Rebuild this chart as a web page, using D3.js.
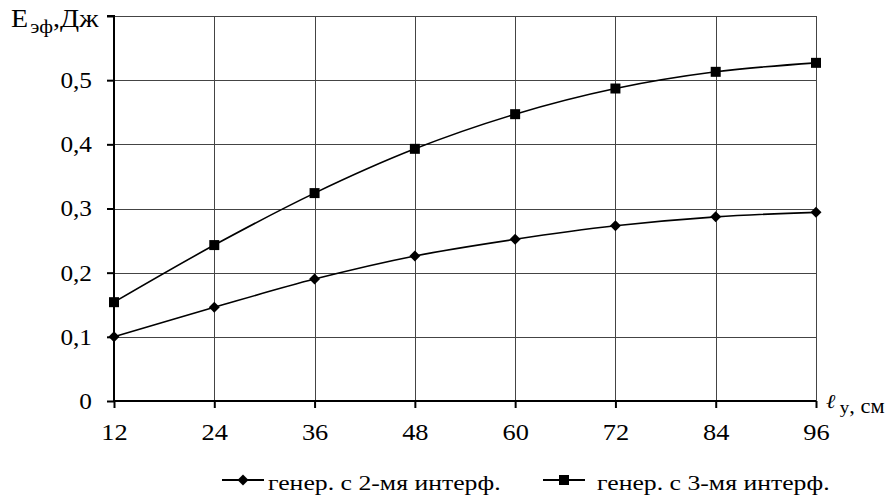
<!DOCTYPE html>
<html><head><meta charset="utf-8">
<script src="https://cdn.jsdelivr.net/npm/d3@7"></script>
<style>html,body{margin:0;padding:0;background:#fff;}svg{display:block;font-family:"Liberation Serif","Times New Roman",serif;}</style>
</head><body>
<svg id="c" width="893" height="501"></svg>
<script>
const xValues = [12, 24, 36, 48, 60, 72, 84, 96];
const series2 = [0.100, 0.146, 0.190, 0.226, 0.252, 0.273, 0.287, 0.294];
const series3 = [0.154, 0.243, 0.324, 0.393, 0.447, 0.487, 0.513, 0.527];
const yTicks = [0, 0.1, 0.2, 0.3, 0.4, 0.5, 0.6];
const yTickLabels = ["0", "0,1", "0,2", "0,3", "0,4", "0,5", ""];
const seriesNames = ["генер. с 2-мя интерф.", "генер. с 3-мя интерф."];

const svg = d3.select("#c");
const x = d3.scaleLinear().domain([12, 96]).range([114, 816]);
const y = d3.scaleLinear().domain([0, 0.6]).range([401, 16]);

function stretch(sel, sx, anchorX, anchorY) {
  sel.attr("transform", `translate(${anchorX},${anchorY}) scale(${sx},1) translate(${-anchorX},${-anchorY})`);
}

// grid
const g = svg.append("g");
g.selectAll(".hg").data(yTicks.slice(1)).join("line")
  .attr("x1", x(12)).attr("x2", x(96))
  .attr("y1", d => Math.round(y(d)) + 0.5).attr("y2", d => Math.round(y(d)) + 0.5)
  .attr("stroke", "#444").attr("stroke-width", 1);
g.selectAll(".vg").data(xValues.slice(1)).join("line")
  .attr("y1", y(0.6)).attr("y2", y(0))
  .attr("x1", d => Math.round(x(d)) + 0.5).attr("x2", d => Math.round(x(d)) + 0.5)
  .attr("stroke", "#444").attr("stroke-width", 1);

// axes
const yAxis = svg.append("g").attr("transform", `translate(${x(12)},0)`)
  .call(d3.axisLeft(y).tickValues(yTicks).tickFormat((d, i) => yTickLabels[i]).tickSize(7).tickPadding(15));
const xAxis = svg.append("g").attr("transform", `translate(0,${y(0)})`)
  .call(d3.axisBottom(x).tickValues(xValues).tickFormat(d => d).tickSize(7).tickPadding(15));
[yAxis, xAxis].forEach(a => {
  a.select(".domain").attr("stroke", "#000").attr("stroke-width", 2);
  a.selectAll(".tick line").attr("stroke", "#000").attr("stroke-width", 2);
  a.selectAll("text").attr("font-family", "Liberation Serif").attr("fill", "#000");
});
yAxis.selectAll("text").attr("font-size", 23).attr("transform", "translate(-22,0) scale(1.1,1) translate(22,0)");
xAxis.selectAll("text").attr("font-size", 24).attr("transform", "scale(1.1,1)");
yAxis.select(".domain").attr("d", `M-7,${y(0.6)}H0V${y(0)}`);
xAxis.select(".domain").attr("d", `M${x(12)},0H${x(96)}`);

// lines
const line = d3.line().x(d => x(d[0])).y(d => y(d[1])).curve(d3.curveCatmullRom.alpha(0.5));
const data2 = xValues.map((v, i) => [v, series2[i]]);
const data3 = xValues.map((v, i) => [v, series3[i]]);
[data2, data3].forEach(dd => {
  svg.append("path").datum(dd).attr("d", line).attr("fill", "none").attr("stroke", "#000").attr("stroke-width", 1.6);
});
svg.selectAll(".dm").data(data2).join("path")
  .attr("d", d3.symbol().type(d3.symbolSquare).size(60))
  .attr("transform", d => `translate(${x(d[0])},${y(d[1])}) rotate(45)`).attr("fill", "#000");
svg.selectAll(".sq").data(data3).join("path")
  .attr("d", d3.symbol().type(d3.symbolSquare).size(100))
  .attr("transform", d => `translate(${x(d[0])},${y(d[1])})`).attr("fill", "#000");

// axis titles
const yt = svg.append("text").attr("x", 11).attr("y", 27).attr("font-size", 25).attr("fill", "#000");
yt.append("tspan").text("E");
yt.append("tspan").attr("dy", 6).attr("dx", 2).attr("font-size", 19).text("эф");
yt.append("tspan").attr("dy", -6).text(",Дж");
stretch(yt, 1.12, 11, 27);

const xt = svg.append("text").attr("x", 826).attr("y", 408).attr("font-size", 20).attr("fill", "#000");
xt.append("tspan").attr("font-style", "italic").text("ℓ");
xt.append("tspan").attr("dy", 5).attr("dx", 4).attr("font-size", 17).text("у");
xt.append("tspan").attr("dy", 0).attr("font-size", 20).text(", см");
stretch(xt, 1.12, 826, 408);

// legend
const lg = [{x: 222, tx: 268, name: seriesNames[0], sym: "d"}, {x: 543, tx: 597, name: seriesNames[1], sym: "s"}];
lg.forEach(l => {
  const ly = 480;
  svg.append("line").attr("x1", l.x).attr("x2", l.x + 42).attr("y1", ly).attr("y2", ly).attr("stroke", "#000").attr("stroke-width", 2);
  if (l.sym === "d") {
    svg.append("path").attr("d", d3.symbol().type(d3.symbolSquare).size(60)).attr("transform", `translate(${l.x + 21},${ly}) rotate(45)`);
  } else {
    svg.append("path").attr("d", d3.symbol().type(d3.symbolSquare).size(100)).attr("transform", `translate(${l.x + 21},${ly})`);
  }
  const t = svg.append("text").attr("x", l.tx).attr("y", ly + 10).attr("font-size", 22).attr("fill", "#000").text(l.name);
  stretch(t, 1.17, l.tx, ly + 10);
});
</script>
</body></html>
